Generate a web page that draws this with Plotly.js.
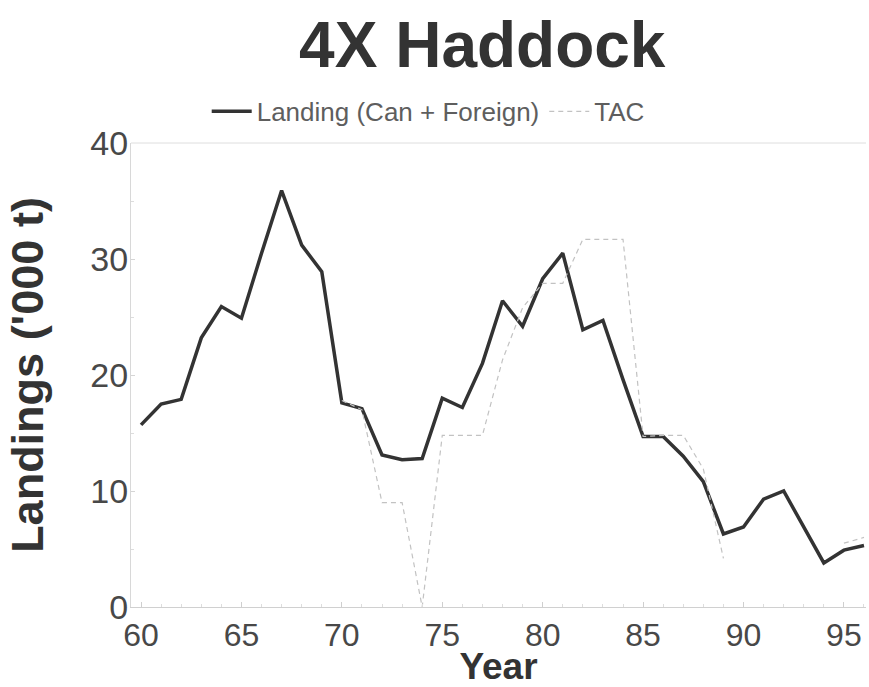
<!DOCTYPE html>
<html>
<head>
<meta charset="utf-8">
<script src="https://cdn.plot.ly/plotly-3.0.1.min.js"></script>
<style>
  html, body { margin: 0; padding: 0; background: #ffffff; }
  #chart { width: 869px; height: 687px; }
</style>
</head>
<body>
<div id="chart"></div>
<script>
// 4X haddock landings and total allowable catch, thousands of tonnes
const years = [60, 61, 62, 63, 64, 65, 66, 67, 68, 69,
               70, 71, 72, 73, 74, 75, 76, 77, 78, 79,
               80, 81, 82, 83, 84, 85, 86, 87, 88, 89,
               90, 91, 92, 93, 94, 95, 96];
const landings = [15.7, 17.5, 17.9, 23.2, 25.9, 24.9, 30.5, 35.9, 31.2, 28.9,
                  17.6, 17.1, 13.1, 12.7, 12.8, 18.0, 17.2, 21.0, 26.4, 24.2,
                  28.3, 30.5, 23.9, 24.7, 19.6, 14.7, 14.7, 13.0, 10.8, 6.3,
                  6.9, 9.3, 10.0, 6.9, 3.8, 4.9, 5.3];
const tac = [null, null, null, null, null, null, null, null, null, null,
             17.8, 17.0, 9.0, 9.0, 0.0, 14.8, 14.8, 14.8, 21.3, 25.8,
             27.9, 27.9, 31.7, 31.7, 31.7, 14.7, 14.8, 14.8, 11.9, 4.2,
             null, null, null, null, null, 5.5, 6.0];
const yTicks = [0, 10, 20, 30, 40];
const xTicks = [60, 65, 70, 75, 80, 85, 90, 95];

const sans = "'Liberation Sans', Arial, sans-serif";

const traces = [
  {
    x: years, y: landings, name: 'Landing (Can + Foreign)',
    type: 'scatter', mode: 'lines',
    line: { color: '#333333', width: 3.5 }
  },
  {
    x: years, y: tac, name: 'TAC',
    type: 'scatter', mode: 'lines', connectgaps: false,
    line: { color: '#c2c2c2', width: 1.2, dash: '5px,4px' }
  }
];

const layout = {
  width: 869, height: 687,
  paper_bgcolor: '#ffffff', plot_bgcolor: '#ffffff',
  margin: { l: 131, r: 3, t: 143, b: 80 },
  title: {
    text: '<b>4X Haddock</b>',
    font: { family: sans, size: 64, color: '#333333' },
    x: 0.555, xanchor: 'center', y: 0.935, yanchor: 'middle'
  },
  showlegend: true,
  legend: {
    orientation: 'h', x: 0.103, xanchor: 'left', y: 1.068, yanchor: 'middle',
    font: { family: sans, size: 26, color: '#5e5e5e' },
    bgcolor: 'rgba(0,0,0,0)', itemwidth: 40, tracegroupgap: 0
  },
  xaxis: {
    range: [59.5, 96.1],
    tickmode: 'array', tickvals: xTicks, ticktext: xTicks.map(String),
    ticks: 'inside', ticklen: 5, tickcolor: '#cfcfcf', tickwidth: 1,
    minor: { dtick: 1, ticks: 'inside', ticklen: 3, tickcolor: '#dddddd' },
    showline: true, linecolor: '#d0d0d0', linewidth: 1,
    showgrid: false, zeroline: false,
    tickfont: { family: sans, size: 32, color: '#484848' },
    title: { text: '<b>Year</b>', font: { family: sans, size: 37, color: '#333333' }, standoff: 2 }
  },
  yaxis: {
    range: [0, 40],
    tickmode: 'array', tickvals: yTicks, ticktext: yTicks.map(String),
    ticks: 'inside', ticklen: 4, tickcolor: '#d5d5d5', tickwidth: 1,
    ticklabelstandoff: -5,
    minor: { dtick: 5, ticks: 'inside', ticklen: 3, tickcolor: '#dddddd' },
    showline: true, linecolor: '#d8d8d8', linewidth: 1, mirror: false,
    showgrid: false, zeroline: false,
    tickfont: { family: sans, size: 34, color: '#484848' },
    title: { text: "<b>Landings ('000 t)</b>", font: { family: sans, size: 45, color: '#333333' }, standoff: 32 }
  },
  shapes: [
    { type: 'line', xref: 'paper', yref: 'paper', x0: 0, x1: 1, y0: 1, y1: 1,
      line: { color: '#dedede', width: 1 } }
  ]
};

Plotly.newPlot('chart', traces, layout, { displayModeBar: false, staticPlot: true });
</script>
</body>
</html>
